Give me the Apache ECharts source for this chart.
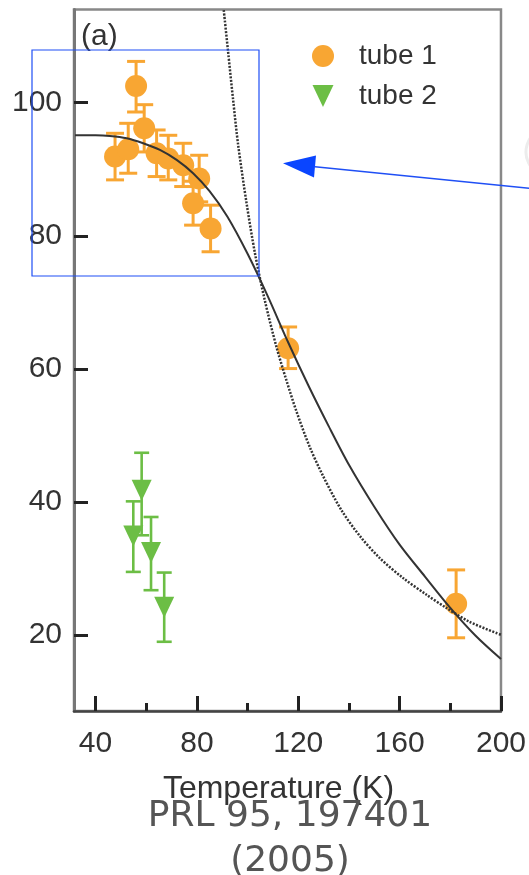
<!DOCTYPE html>
<html>
<head>
<meta charset="utf-8">
<script src="https://cdn.jsdelivr.net/npm/echarts@6/dist/echarts.min.js"></script>
<style>
html,body{margin:0;padding:0;background:#fff;}
#c{width:529px;height:875px;}
</style>
</head>
<body>
<div id="c"></div>
<script>
// ---- data ----
const tube1T  = [47.7, 52.9, 56.0, 59.2, 64.1, 68.7, 74.6, 80.9, 78.5, 85.4, 116.0, 182.3];
const tube1R  = [91.9, 93.0, 102.5, 96.15, 92.4, 91.6, 90.6, 88.6, 84.9, 81.1, 63.1, 24.7];
const tube1Lo = [88.4, 89.4, 98.6, 92.6, 88.9, 88.4, 87.4, 85.1, 81.6, 77.6, 60.05, 19.6];
const tube1Hi = [95.4, 96.9, 106.2, 99.7, 95.9, 95.1, 93.9, 92.1, 88.2, 84.6, 66.3, 29.8];

const tube2T  = [58.2, 54.9, 61.9, 67.1];
const tube2R  = [41.75, 34.9, 32.4, 24.2];
const tube2Lo = [35.0, 29.5, 26.75, 19.0];
const tube2Hi = [47.4, 40.1, 37.75, 29.4];

const solidT = [31.9, 40, 45.7, 52.3, 58.8, 65.4, 72, 78.5, 85, 92, 100, 108, 116, 124, 132, 140, 150, 160, 170, 180, 190, 200];
const solidR = [95.1, 95.1, 95.0, 94.65, 93.9, 92.9, 91.4, 89.4, 86.7, 82.9, 77.3, 70.9, 64.0, 57.5, 51.4, 45.6, 39.3, 33.6, 28.8, 24.1, 19.9, 16.4];

const dottedT = [90.6, 92.3, 94.3, 96.3, 99.6, 102.9, 106.8, 111.4, 115.4, 119.3, 124.5, 129.8, 137, 144.3, 152.1, 161.3, 170.5, 178.4, 187.6, 200];
const dottedR = [113.9, 107.7, 100.4, 93.6, 84.9, 77.4, 70.3, 63.3, 58.2, 53.6, 48.3, 43.9, 38.8, 34.9, 31.6, 28.6, 26.1, 24.1, 22.0, 20.05];

const xMajorTicks = [40, 80, 120, 160, 200];
const xMinorTicks = [60, 100, 140, 180];
const yTicks = [20, 40, 60, 80, 100];

const xMin = 31.5, xMax = 200, yMin = 8.6, yMax = 114;

const ORANGE = '#F8A633';
const GREEN = '#6CBE45';
const FONT = 'Liberation Sans, Arial, Helvetica, sans-serif';
const TRI = 'path://M0,0L20,0L10,21Z';

function zip(a, b) { return a.map((v, i) => [v, b[i]]); }
function zip3(a, b, c) { return a.map((v, i) => [v, b[i], c[i]]); }

function errRender(color, half, lw) {
  return function (params, api) {
    const x = api.value(0), lo = api.value(1), hi = api.value(2);
    const p1 = api.coord([x, lo]);
    const p2 = api.coord([x, hi]);
    const st = { stroke: color, lineWidth: lw };
    return {
      type: 'group',
      children: [
        { type: 'line', shape: { x1: p1[0], y1: p1[1], x2: p2[0], y2: p2[1] }, style: st },
        { type: 'line', shape: { x1: p1[0] - half, y1: p1[1], x2: p1[0] + half, y2: p1[1] }, style: st },
        { type: 'line', shape: { x1: p2[0] - half, y1: p2[1], x2: p2[0] + half, y2: p2[1] }, style: st }
      ]
    };
  };
}

const chart = echarts.init(document.getElementById('c'), null, { renderer: 'canvas' });

chart.setOption({
  backgroundColor: '#fff',
  animation: false,
  grid: {
    left: 74, right: 27.5, top: 9.5, bottom: 164,
    show: true, borderColor: '#888', borderWidth: 2.5, backgroundColor: 'transparent'
  },
  legend: {
    orient: 'vertical',
    left: 307, top: 37,
    itemWidth: 22, itemHeight: 22, itemGap: 12,
    data: [
      { name: 'tube 1', icon: 'circle' },
      { name: 'tube 2', icon: TRI }
    ],
    textStyle: { fontFamily: FONT, fontSize: 28, color: '#333', padding: [0, 0, 0, 20], lineHeight: 28 }
  },
  xAxis: [
    {
      type: 'value', min: xMin, max: xMax,
      name: 'Temperature (K)', nameLocation: 'middle', nameGap: 62,
      nameTextStyle: { fontFamily: FONT, fontSize: 32, color: '#333', padding: [0, 18, 0, 0] },
      axisLine: { show: true, onZero: false, lineStyle: { color: '#444', width: 2.5 } },
      axisTick: { show: true, inside: true, length: 15, customValues: xMajorTicks, lineStyle: { color: '#222', width: 3 } },
      axisLabel: { show: true, customValues: xMajorTicks, margin: 18, fontFamily: FONT, fontSize: 30, color: '#333' },
      splitLine: { show: false }
    },
    {
      type: 'value', min: xMin, max: xMax, position: 'bottom',
      axisLine: { show: false, onZero: false },
      axisTick: { show: true, inside: true, length: 8, customValues: xMinorTicks, lineStyle: { color: '#222', width: 3 } },
      axisLabel: { show: false },
      splitLine: { show: false }
    }
  ],
  yAxis: {
    type: 'value', min: yMin, max: yMax,
    axisLine: { show: true, onZero: false, lineStyle: { color: '#777', width: 3 } },
    axisTick: { show: true, inside: true, length: 14, customValues: yTicks, lineStyle: { color: '#222', width: 3 } },
    axisLabel: { show: true, customValues: yTicks, margin: 12, fontFamily: FONT, fontSize: 30, color: '#333' },
    splitLine: { show: false }
  },
  graphic: [
    { type: 'text', left: 81, top: 22, style: { text: '(a)', font: '30px ' + FONT, fill: '#333' }, z: 100 },
    { type: 'rect', shape: { x: 32, y: 50, width: 227, height: 226 }, style: { fill: 'none', stroke: '#1F4FF5', lineWidth: 1.2 }, z: 100 },
    { type: 'line', shape: { x1: 315, y1: 166.7, x2: 530, y2: 188.3 }, style: { stroke: '#1F4FF5', lineWidth: 1.6 }, z: 100 },
    { type: 'polygon', shape: { points: [[283, 163.3], [316, 155.5], [314, 177.5]] }, style: { fill: '#0A45FF' }, z: 100 },
    { type: 'arc', shape: { cx: 550, cy: 152, r: 24, startAngle: Math.PI * 0.6, endAngle: Math.PI * 1.4 }, style: { stroke: '#ececec', lineWidth: 3, fill: 'none' }, z: 1 },
    {
      type: 'text', x: 290, y: 794,
      style: { text: 'PRL 95, 197401\n(2005)', font: '36px "DejaVu Sans", sans-serif', fill: '#555', align: 'center', textAlign: 'center', verticalAlign: 'top', lineHeight: 45 },
      z: 100
    }
  ],
  series: [
    {
      type: 'custom', name: 'tube 1 err', renderItem: errRender(ORANGE, 9, 3),
      data: zip3(tube1T, tube1Lo, tube1Hi), encode: { x: 0, y: [1, 2] }, z: 2, silent: true
    },
    {
      type: 'custom', name: 'tube 2 err', renderItem: errRender(GREEN, 7.5, 2.6),
      data: zip3(tube2T, tube2Lo, tube2Hi), encode: { x: 0, y: [1, 2] }, z: 2, silent: true
    },
    {
      type: 'scatter', name: 'tube 1', symbol: 'circle', symbolSize: 22,
      itemStyle: { color: ORANGE, opacity: 1 }, data: zip(tube1T, tube1R), z: 3
    },
    {
      type: 'scatter', name: 'tube 2', symbol: TRI, symbolSize: [20, 21],
      itemStyle: { color: GREEN, opacity: 1 }, data: zip(tube2T, tube2R), z: 3
    },
    {
      type: 'line', name: 'fit solid', data: zip(solidT, solidR), smooth: 0.3, showSymbol: false, symbol: 'none',
      lineStyle: { color: '#333', width: 2 }, z: 4, clip: true, silent: true
    },
    {
      type: 'line', name: 'fit dotted', data: zip(dottedT, dottedR), smooth: 0.3, showSymbol: false, symbol: 'none',
      lineStyle: { color: '#333', width: 2.5, type: [2, 1.5] }, z: 4, clip: true, silent: true
    }
  ]
});
</script>
</body>
</html>
